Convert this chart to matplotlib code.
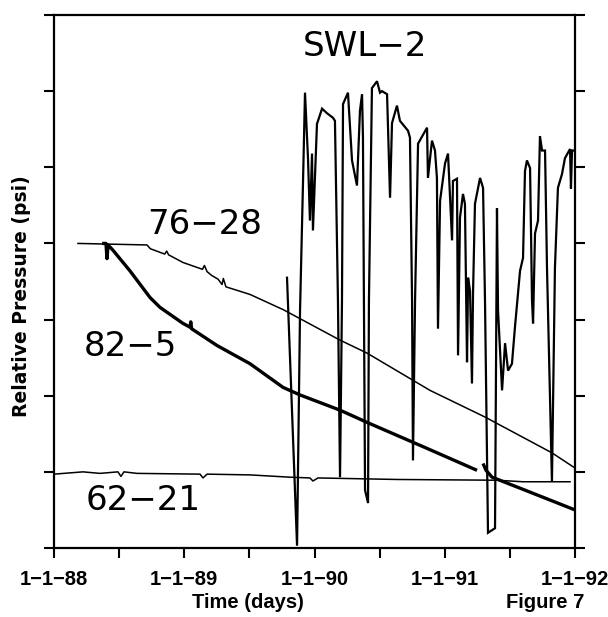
import matplotlib
matplotlib.use("Agg")
import matplotlib.pyplot as plt
import numpy as np

# time in years, pressure in tick units (8 ticks, unlabeled)
swl2_t = [1989.789, 1989.866, 1989.889, 1989.912, 1989.927, 1989.950, 1989.965, 1989.981,
          1989.988, 1990.019, 1990.058, 1990.096, 1990.142, 1990.157, 1990.180, 1990.196,
          1990.211, 1990.219, 1990.257, 1990.288, 1990.326, 1990.349, 1990.365, 1990.372,
          1990.388, 1990.411, 1990.418, 1990.441, 1990.480, 1990.503, 1990.518, 1990.557,
          1990.580, 1990.595, 1990.633, 1990.656, 1990.718, 1990.733, 1990.749, 1990.756,
          1990.772, 1990.795, 1990.864, 1990.871, 1990.902, 1990.925, 1990.940, 1990.948,
          1990.964, 1991.002, 1991.025, 1991.056, 1991.063, 1991.094, 1991.102, 1991.117,
          1991.140, 1991.155, 1991.171, 1991.179, 1991.194, 1991.209, 1991.217, 1991.232,
          1991.271, 1991.294, 1991.309, 1991.332, 1991.386, 1991.401, 1991.409, 1991.440,
          1991.463, 1991.486, 1991.516, 1991.539, 1991.578, 1991.601, 1991.616, 1991.631,
          1991.655, 1991.670, 1991.678, 1991.693, 1991.716, 1991.731, 1991.747, 1991.770,
          1991.785, 1991.823, 1991.846, 1991.869, 1991.900, 1991.923, 1991.962, 1991.969,
          1991.977, 1992.0]
swl2_p = [3.55, 0.03, 3.12, 4.82, 5.98, 5.12, 4.30, 5.18,
          4.17, 5.57, 5.77, 5.71, 5.65, 5.61, 3.25, 0.93,
          3.25, 5.83, 5.98, 5.09, 4.76, 5.74, 5.96, 5.39,
          0.76, 0.59, 3.25, 6.04, 6.13, 5.98, 6.00, 5.96,
          4.60, 5.58, 5.81, 5.61, 5.48, 5.39, 3.25, 1.15,
          3.25, 5.31, 5.52, 4.86, 5.35, 5.22, 4.86, 2.88,
          4.56, 5.05, 5.18, 4.04, 4.82, 4.85, 2.53, 4.34,
          4.65, 4.52, 2.44, 3.55, 3.38, 2.16, 3.34, 4.52,
          4.86, 4.73, 3.25, 0.20, 0.26, 4.46, 3.12, 2.07,
          2.69, 2.33, 2.42, 2.90, 3.64, 3.81, 4.95, 5.09,
          4.99, 3.25, 2.95, 4.13, 4.30, 5.41, 5.22, 5.22,
          3.68, 0.87, 3.68, 4.73, 4.91, 5.12, 5.24, 4.72,
          5.22, 5.22]

w7628_t = [1988.184, 1988.714, 1988.740, 1988.850, 1988.865, 1988.880, 1988.990, 1989.140,
           1989.155, 1989.175, 1989.210, 1989.260, 1989.290, 1989.300, 1989.320, 1989.505,
           1989.760, 1990.196, 1990.403, 1990.887, 1991.309, 1991.823, 1992.0]
w7628_p = [4.00, 3.98, 3.93, 3.86, 3.90, 3.85, 3.75, 3.66,
           3.71, 3.63, 3.58, 3.53, 3.46, 3.54, 3.43, 3.33,
           3.13, 2.73, 2.56, 2.07, 1.72, 1.25, 1.05]

w825_t1 = [1988.369, 1988.399, 1988.407, 1988.415, 1988.453, 1988.583, 1988.737, 1988.814,
           1988.990, 1989.044, 1989.050, 1989.056, 1989.251, 1989.505, 1989.758, 1989.889,
           1990.196, 1990.403, 1990.848, 1991.248]
w825_p1 = [4.00, 4.00, 3.80, 3.98, 3.91, 3.64, 3.29, 3.16,
           2.95, 2.90, 2.97, 2.88, 2.66, 2.42, 2.11, 2.01,
           1.81, 1.65, 1.32, 1.02]
w825_t2 = [1991.294, 1991.317, 1991.363, 1991.616, 1992.0]
w825_p2 = [1.11, 1.02, 0.93, 0.76, 0.50]

w6221_t = [1988.0, 1988.223, 1988.353, 1988.491, 1988.514, 1988.537, 1988.637, 1989.121,
           1989.144, 1989.175, 1989.505, 1989.812, 1989.965, 1989.988, 1990.027, 1990.633,
           1991.401, 1991.601, 1991.962]
w6221_p = [0.97, 1.00, 0.98, 1.00, 0.94, 1.00, 0.98, 0.97,
           0.92, 0.97, 0.96, 0.93, 0.92, 0.88, 0.92, 0.90,
           0.89, 0.87, 0.87]

year_ticks = [1988, 1989, 1990, 1991, 1992]
year_labels = ["1\u22121\u221288", "1\u22121\u221289", "1\u22121\u221290",
               "1\u22121\u221291", "1\u22121\u221292"]

fig = plt.figure(figsize=(6.08, 6.17), dpi=100)
ax = fig.add_axes([54 / 608, 1 - 548 / 617, 521 / 608, 533 / 617])

ax.plot(w6221_t, w6221_p, color="black", lw=1.1)
ax.plot(w7628_t, w7628_p, color="black", lw=1.1)
ax.plot(w825_t1, w825_p1, color="black", lw=2.4, solid_capstyle="butt")
ax.plot(w825_t2, w825_p2, color="black", lw=2.4, solid_capstyle="butt")
ax.plot(swl2_t, swl2_p, color="black", lw=1.6, solid_joinstyle="miter")

ax.set_xlim(1988, 1992)
ax.set_ylim(0, 7)
ax.set_xticks(year_ticks)
ax.set_xticklabels(year_labels, fontsize=14.5, fontweight="bold", family="Liberation Sans")
ax.set_xticks(np.arange(1988.5, 1992, 1.0), minor=True)
ax.set_yticks(range(8))
ax.set_yticklabels([])
ax.tick_params(axis="x", which="both", direction="out", length=7, width=1.5, pad=9)
ax.tick_params(axis="y", which="both", direction="out", length=7, width=1.5,
               left=True, right=True)
for s in ax.spines.values():
    s.set_linewidth(1.6)

big = dict(fontsize=24.5, family="DejaVu Sans", ha="center", va="center")
fig.text(365 / 608, 1 - 46 / 617, "SWL\u22122", **big)
fig.text(205 / 608, 1 - 224 / 617, "76\u221228", **big)
fig.text(130 / 608, 1 - 347 / 617, "82\u22125", **big)
fig.text(143 / 608, 1 - 500 / 617, "62\u221221", **big)

fig.text(248 / 608, 1 - 603 / 617, "Time (days)", fontsize=14.5, fontweight="bold",
         family="Liberation Sans", ha="center", va="center")
fig.text(545 / 608, 1 - 603 / 617, "Figure 7", fontsize=14.5, fontweight="bold",
         family="Liberation Sans", ha="center", va="center")
fig.text(22 / 608, 1 - 296 / 617, "Relative Pressure (psi)", fontsize=13.5,
         fontweight="bold", family="DejaVu Sans", rotation=90,
         ha="center", va="center")

fig.savefig("out.png", dpi=100)
